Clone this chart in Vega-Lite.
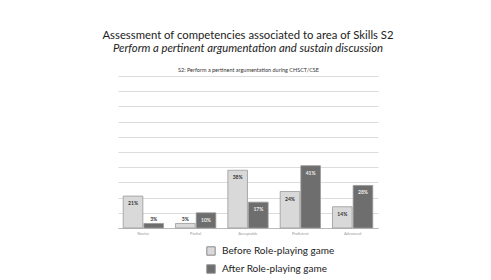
{
  "$schema": "https://vega.github.io/schema/vega-lite/v6.json",
  "autosize": "none",
  "width": 260,
  "height": 152,
  "padding": {"left": 118, "top": 76, "right": 113, "bottom": 52},
  "background": "white",
  "title": {
    "text": "Assessment of competencies associated to area of Skills S2",
    "subtitle": "Perform a pertinent argumentation and sustain discussion",
    "anchor": "middle",
    "font": "Lato",
    "fontSize": 11.3,
    "fontWeight": "normal",
    "color": "#222",
    "subtitleFont": "Lato",
    "subtitleFontSize": 11.3,
    "subtitleFontStyle": "italic",
    "subtitleColor": "#222",
    "subtitlePadding": 1,
    "offset": 13
  },
  "data": {
    "values": [
      {"level": "Novice", "series": "Before Role-playing game", "value": 0.21},
      {"level": "Novice", "series": "After Role-playing game", "value": 0.03},
      {"level": "Partial", "series": "Before Role-playing game", "value": 0.03},
      {"level": "Partial", "series": "After Role-playing game", "value": 0.10},
      {"level": "Acceptable", "series": "Before Role-playing game", "value": 0.38},
      {"level": "Acceptable", "series": "After Role-playing game", "value": 0.17},
      {"level": "Proficient", "series": "Before Role-playing game", "value": 0.24},
      {"level": "Proficient", "series": "After Role-playing game", "value": 0.41},
      {"level": "Advanced", "series": "Before Role-playing game", "value": 0.14},
      {"level": "Advanced", "series": "After Role-playing game", "value": 0.28}
    ]
  },
  "encoding": {
    "x": {
      "field": "level", "type": "nominal", "sort": null,
      "scale": {"paddingInner": 0.23, "paddingOuter": 0.1},
      "axis": {"title": null, "labelAngle": 0, "labelFontSize": 4, "labelColor": "#999", "ticks": false, "domainColor": "#bbb", "labelPadding": 3, "labelFont": "Lato"}
    },
    "xOffset": {"field": "series", "type": "nominal", "sort": ["Before Role-playing game", "After Role-playing game"], "scale": {"paddingInner": 0.05}},
    "y": {
      "field": "value", "type": "quantitative",
      "scale": {"domain": [0, 1]},
      "axis": {
        "labels": false, "ticks": false, "domain": false, "tickCount": 10,
        "gridColor": "#dcdcdc",
        "title": "S2: Perform a pertinent argumentation during CHSCT/CSE",
        "titleAngle": 0, "titleX": 130, "titleY": -7, "titleAlign": "center", "titleBaseline": "middle",
        "titleFontSize": 5.5, "titleFontWeight": "normal", "titleColor": "#333", "titleFont": "Lato"
      }
    }
  },
  "layer": [
    {
      "mark": {"type": "bar", "strokeWidth": 0.8},
      "encoding": {
        "color": {
          "field": "series", "type": "nominal",
          "sort": ["Before Role-playing game", "After Role-playing game"],
          "scale": {"domain": ["Before Role-playing game", "After Role-playing game"], "range": ["#d9d9d9", "#6e6e6e"]},
          "legend": {
            "title": null, "orient": "none", "legendX": 88, "legendY": 170,
            "symbolType": "square", "symbolSize": 70, "symbolStrokeColor": "#888", "symbolStrokeWidth": 1,
            "labelFontSize": 10, "labelFont": "Lato", "labelColor": "#222", "rowPadding": 4, "labelOffset": 6
          }
        },
        "stroke": {"value": "#999"}
      }
    },
    {
      "transform": [{"filter": "datum.value >= 0.05"}],
      "mark": {"type": "text", "dy": 7, "fontSize": 5, "fontWeight": "bold", "font": "Lato"},
      "encoding": {
        "text": {"field": "value", "type": "quantitative", "format": ".0%"},
        "color": {"condition": {"test": "datum.series === 'After Role-playing game'", "value": "#eeeeee"}, "value": "#333333"}
      }
    },
    {
      "transform": [{"filter": "datum.value < 0.05"}],
      "mark": {"type": "text", "dy": -4, "fontSize": 5, "fontWeight": "bold", "font": "Lato"},
      "encoding": {
        "text": {"field": "value", "type": "quantitative", "format": ".0%"},
        "color": {"value": "#333333"}
      }
    }
  ],
  "config": {"view": {"stroke": null}}
}
